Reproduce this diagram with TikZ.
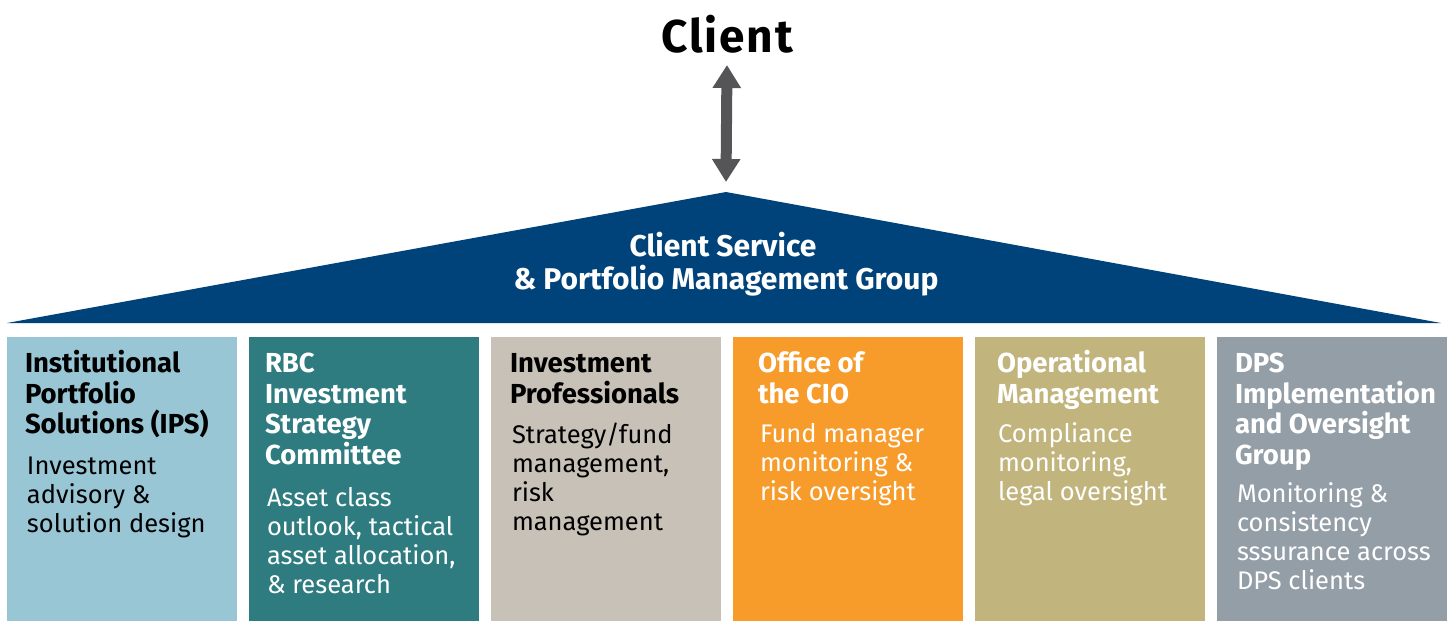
\documentclass[tikz,border=0pt]{standalone}
\usepackage{fontspec}
\setmainfont{Fira Sans}
\usetikzlibrary{positioning, arrows.meta}

\definecolor{csblue}{HTML}{00437A}
\definecolor{arrowgray}{HTML}{555557}
\definecolor{ipsblue}{HTML}{98C6D5}
\definecolor{rbcteal}{HTML}{2E7C80}
\definecolor{profbeige}{HTML}{C8C1B7}
\definecolor{cioorange}{HTML}{F79C2B}
\definecolor{opsgold}{HTML}{C1B47C}
\definecolor{dpsgray}{HTML}{949EA7}

\begin{document}
\begin{tikzpicture}[x=1pt, y=-1pt,
    unit box/.style={minimum width=230pt, minimum height=284pt, inner sep=0pt, draw=none},
    unit title/.style={anchor=base west, align=left, inner sep=0pt, font=\bfseries\fontsize{27.5}{30.5}\selectfont},
    unit body/.style={anchor=base west, align=left, inner sep=0pt, font=\fontsize{25.5}{29}\selectfont},
    big arrow/.style={{Triangle[width=27pt, length=23pt]}-{Triangle[width=27pt, length=23pt]}, line width=11pt, arrowgray}
]
    \useasboundingbox (0,0) rectangle (1452,621);

    % === Client and roof ===
    \node[anchor=base, inner sep=0pt, font=\bfseries\fontsize{46}{46}\selectfont\addfontfeature{LetterSpace=4}] (client) at (727,52) {Client};
    \coordinate (apex) at (726,192);
    \fill[csblue] (7,323) -- (apex) -- (1441,323) -- cycle;
    \draw[big arrow] (727,65) -- ([yshift=10pt]apex);

    \node[anchor=base, inner sep=0pt, text=white, font=\bfseries\fontsize{30}{33}\selectfont] (cs top) at (723,256) {Client Service};
    \node[anchor=base, inner sep=0pt, text=white, font=\bfseries\fontsize{30}{33}\selectfont] (cs bottom) at (726,289) {\& Portfolio Management Group};

    % === Units ===
    % (base anchor sits on the last line of each text)
    % Institutional Portfolio Solutions
    \node[unit box, fill=ipsblue] (ips) at (122,479) {};
    \node[unit title] (ips title) at ([xshift=18pt, yshift=-97pt]ips.north west) {Institutional\\Portfolio\\Solutions (IPS)};
    \node[unit body] (ips body) at ([xshift=20pt, yshift=-196pt]ips.north west) {Investment\\advisory \&\\solution design};

    % RBC Investment Strategy Committee
    \node[unit box, fill=rbcteal] (rbc) at (364,479) {};
    \node[unit title, text=white] (rbc title) at ([xshift=16pt, yshift=-127.5pt]rbc.north west) {RBC\\Investment\\Strategy\\Committee};
    \node[unit body, text=white] (rbc body) at ([xshift=18pt, yshift=-256.5pt]rbc.north west) {Asset class\\outlook, tactical\\asset allocation,\\\& research};

    % Investment Professionals
    \node[unit box, fill=profbeige] (prof) at (606,479) {};
    \node[unit title] (prof title) at ([xshift=19pt, yshift=-66.5pt]prof.north west) {Investment\\Professionals};
    \node[unit body] (prof body) at ([xshift=21pt, yshift=-194pt]prof.north west) {Strategy/fund\\management,\\risk\\management};

    % Office of the CIO
    \node[unit box, fill=cioorange] (cio) at (848,479) {};
    \node[unit title, text=white] (cio title) at ([xshift=25pt, yshift=-66.5pt]cio.north west) {Office of\\the CIO};
    \node[unit body, text=white] (cio body) at ([xshift=27pt, yshift=-164pt]cio.north west) {Fund manager\\monitoring \&\\risk oversight};

    % Operational Management
    \node[unit box, fill=opsgold] (ops) at (1090,479) {};
    \node[unit title, text=white] (ops title) at ([xshift=22pt, yshift=-66.5pt]ops.north west) {Operational\\Management};
    \node[unit body, text=white] (ops body) at ([xshift=23pt, yshift=-164pt]ops.north west) {Compliance\\monitoring,\\legal oversight};

    % DPS Implementation and Oversight Group
    \node[unit box, fill=dpsgray] (dps) at (1332,479) {};
    \node[unit title, text=white] (dps title) at ([xshift=18pt, yshift=-127.5pt]dps.north west) {DPS\\Implementation\\and Oversight\\Group};
    \node[unit body, text=white] (dps body) at ([xshift=20pt, yshift=-253pt]dps.north west) {Monitoring \&\\consistency\\sssurance across\\DPS clients};

\end{tikzpicture}
\end{document}
